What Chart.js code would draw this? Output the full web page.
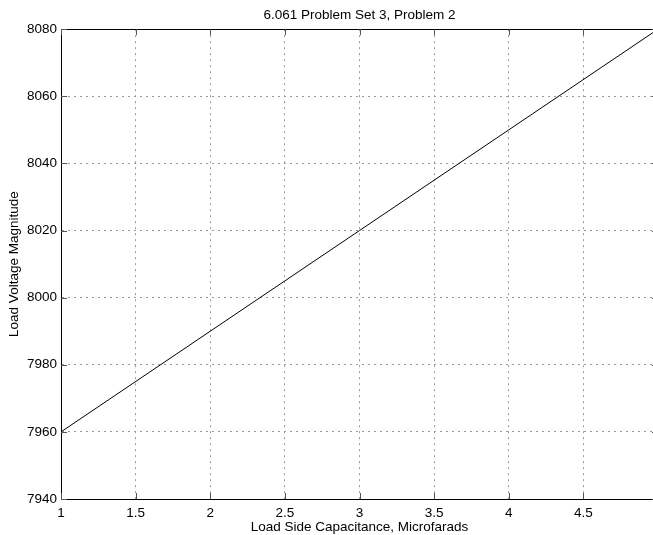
<!DOCTYPE html>
<html lang="en">
<head>
  <meta charset="UTF-8">
  <title>6.061 Problem Set 3, Problem 2</title>
  <script src="https://cdn.jsdelivr.net/npm/chart.js"></script>
  <style>
    html, body {
      margin: 0; padding: 0;
      background: #fff;
      overflow: hidden;
    }
    .wrap { width: 670px; height: 535px; }
  </style>
</head>
<body>
  <div class="wrap">
    <canvas id="chartLoad" width="670" height="535"></canvas>
  </div>

  <script>
    // data
    const capacitance = [1, 2, 3, 4, 5];
    const loadVoltage = [7960, 7990, 8020, 8050, 8080];
    const xTicks = [1, 1.5, 2, 2.5, 3, 3.5, 4, 4.5, 5];
    const yTicks = [7940, 7960, 7980, 8000, 8020, 8040, 8060, 8080];

    const FONT = '"Liberation Sans", Helvetica, Arial, sans-serif';
    const FS = 13.5;

    // hide grid lines that sit on the box edges
    const gridColor = (lo, hi) => c =>
      (c.tick && (c.tick.value === lo || c.tick.value === hi)) ? 'rgba(0,0,0,0)' : '#999';

    // matlab style: top box line + inward tick marks
    const boxTicks = {
      id: 'boxTicks',
      afterDraw(chart) {
        const { ctx, chartArea: a, scales } = chart;
        ctx.save();
        ctx.strokeStyle = '#000';
        ctx.lineWidth = 1;
        ctx.beginPath();
        ctx.moveTo(a.left, Math.round(a.top) + 0.5);
        ctx.lineTo(a.right, Math.round(a.top) + 0.5);
        ctx.stroke();
        ctx.strokeStyle = '#555';
        ctx.beginPath();
        xTicks.forEach(v => {
          const px = Math.round(scales.x.getPixelForValue(v)) + 0.5;
          ctx.moveTo(px, a.bottom); ctx.lineTo(px, a.bottom - 6);
          ctx.moveTo(px, a.top); ctx.lineTo(px, a.top + 6);
        });
        yTicks.forEach(v => {
          const py = Math.round(scales.y.getPixelForValue(v)) + 0.5;
          ctx.moveTo(a.left, py); ctx.lineTo(a.left + 6, py);
          ctx.moveTo(a.right, py); ctx.lineTo(a.right - 6, py);
        });
        ctx.stroke();
        ctx.restore();
      }
    };

    new Chart(document.getElementById('chartLoad'), {
      type: 'scatter',
      data: {
        datasets: [{
          data: capacitance.map((x, i) => ({ x: x, y: loadVoltage[i] })),
          showLine: true,
          borderColor: '#000',
          borderWidth: 1,
          pointRadius: 0,
          tension: 0
        }]
      },
      options: {
        responsive: false,
        animation: false,
        layout: { padding: { left: 0, right: 12, top: 0, bottom: 0 } },
        plugins: {
          legend: { display: false },
          tooltip: { enabled: false },
          title: {
            display: true,
            fullSize: false,
            text: '6.061 Problem Set 3, Problem 2',
            color: '#000',
            font: { family: FONT, size: FS, weight: 'normal' },
            padding: { top: 7, bottom: 6 }
          }
        },
        scales: {
          x: {
            type: 'linear',
            min: 1, max: 5,
            afterBuildTicks: s => { s.ticks = xTicks.map(v => ({ value: v })); },
            afterFit: s => { s.height = 36; },
            ticks: {
              autoSkip: false, maxRotation: 0, padding: 6,
              color: '#000',
              font: { family: FONT, size: FS },
              callback: v => String(v)
            },
            grid: {
              color: gridColor(1, 5), lineWidth: 1, drawTicks: false,
              tickLength: 0
            },
            border: { color: '#000', width: 1, dash: [2, 4] },
            title: {
              display: true,
              text: 'Load Side Capacitance, Microfarads',
              color: '#000',
              font: { family: FONT, size: FS },
              padding: { top: 0, bottom: 0 }
            }
          },
          y: {
            type: 'linear',
            min: 7940, max: 8080,
            afterBuildTicks: s => { s.ticks = yTicks.map(v => ({ value: v })); },
            afterFit: s => { s.width = 61; },
            ticks: {
              padding: 4,
              color: '#000',
              font: { family: FONT, size: FS },
              callback: v => String(v)
            },
            grid: {
              color: gridColor(7940, 8080), lineWidth: 1, drawTicks: false,
              tickLength: 0
            },
            border: { color: '#000', width: 1, dash: [2, 4] },
            title: {
              display: true,
              text: 'Load Voltage Magnitude',
              color: '#000',
              font: { family: FONT, size: FS },
              padding: { top: 6.5, bottom: 0 }
            }
          }
        }
      },
      plugins: [boxTicks]
    });
  </script>
</body>
</html>
